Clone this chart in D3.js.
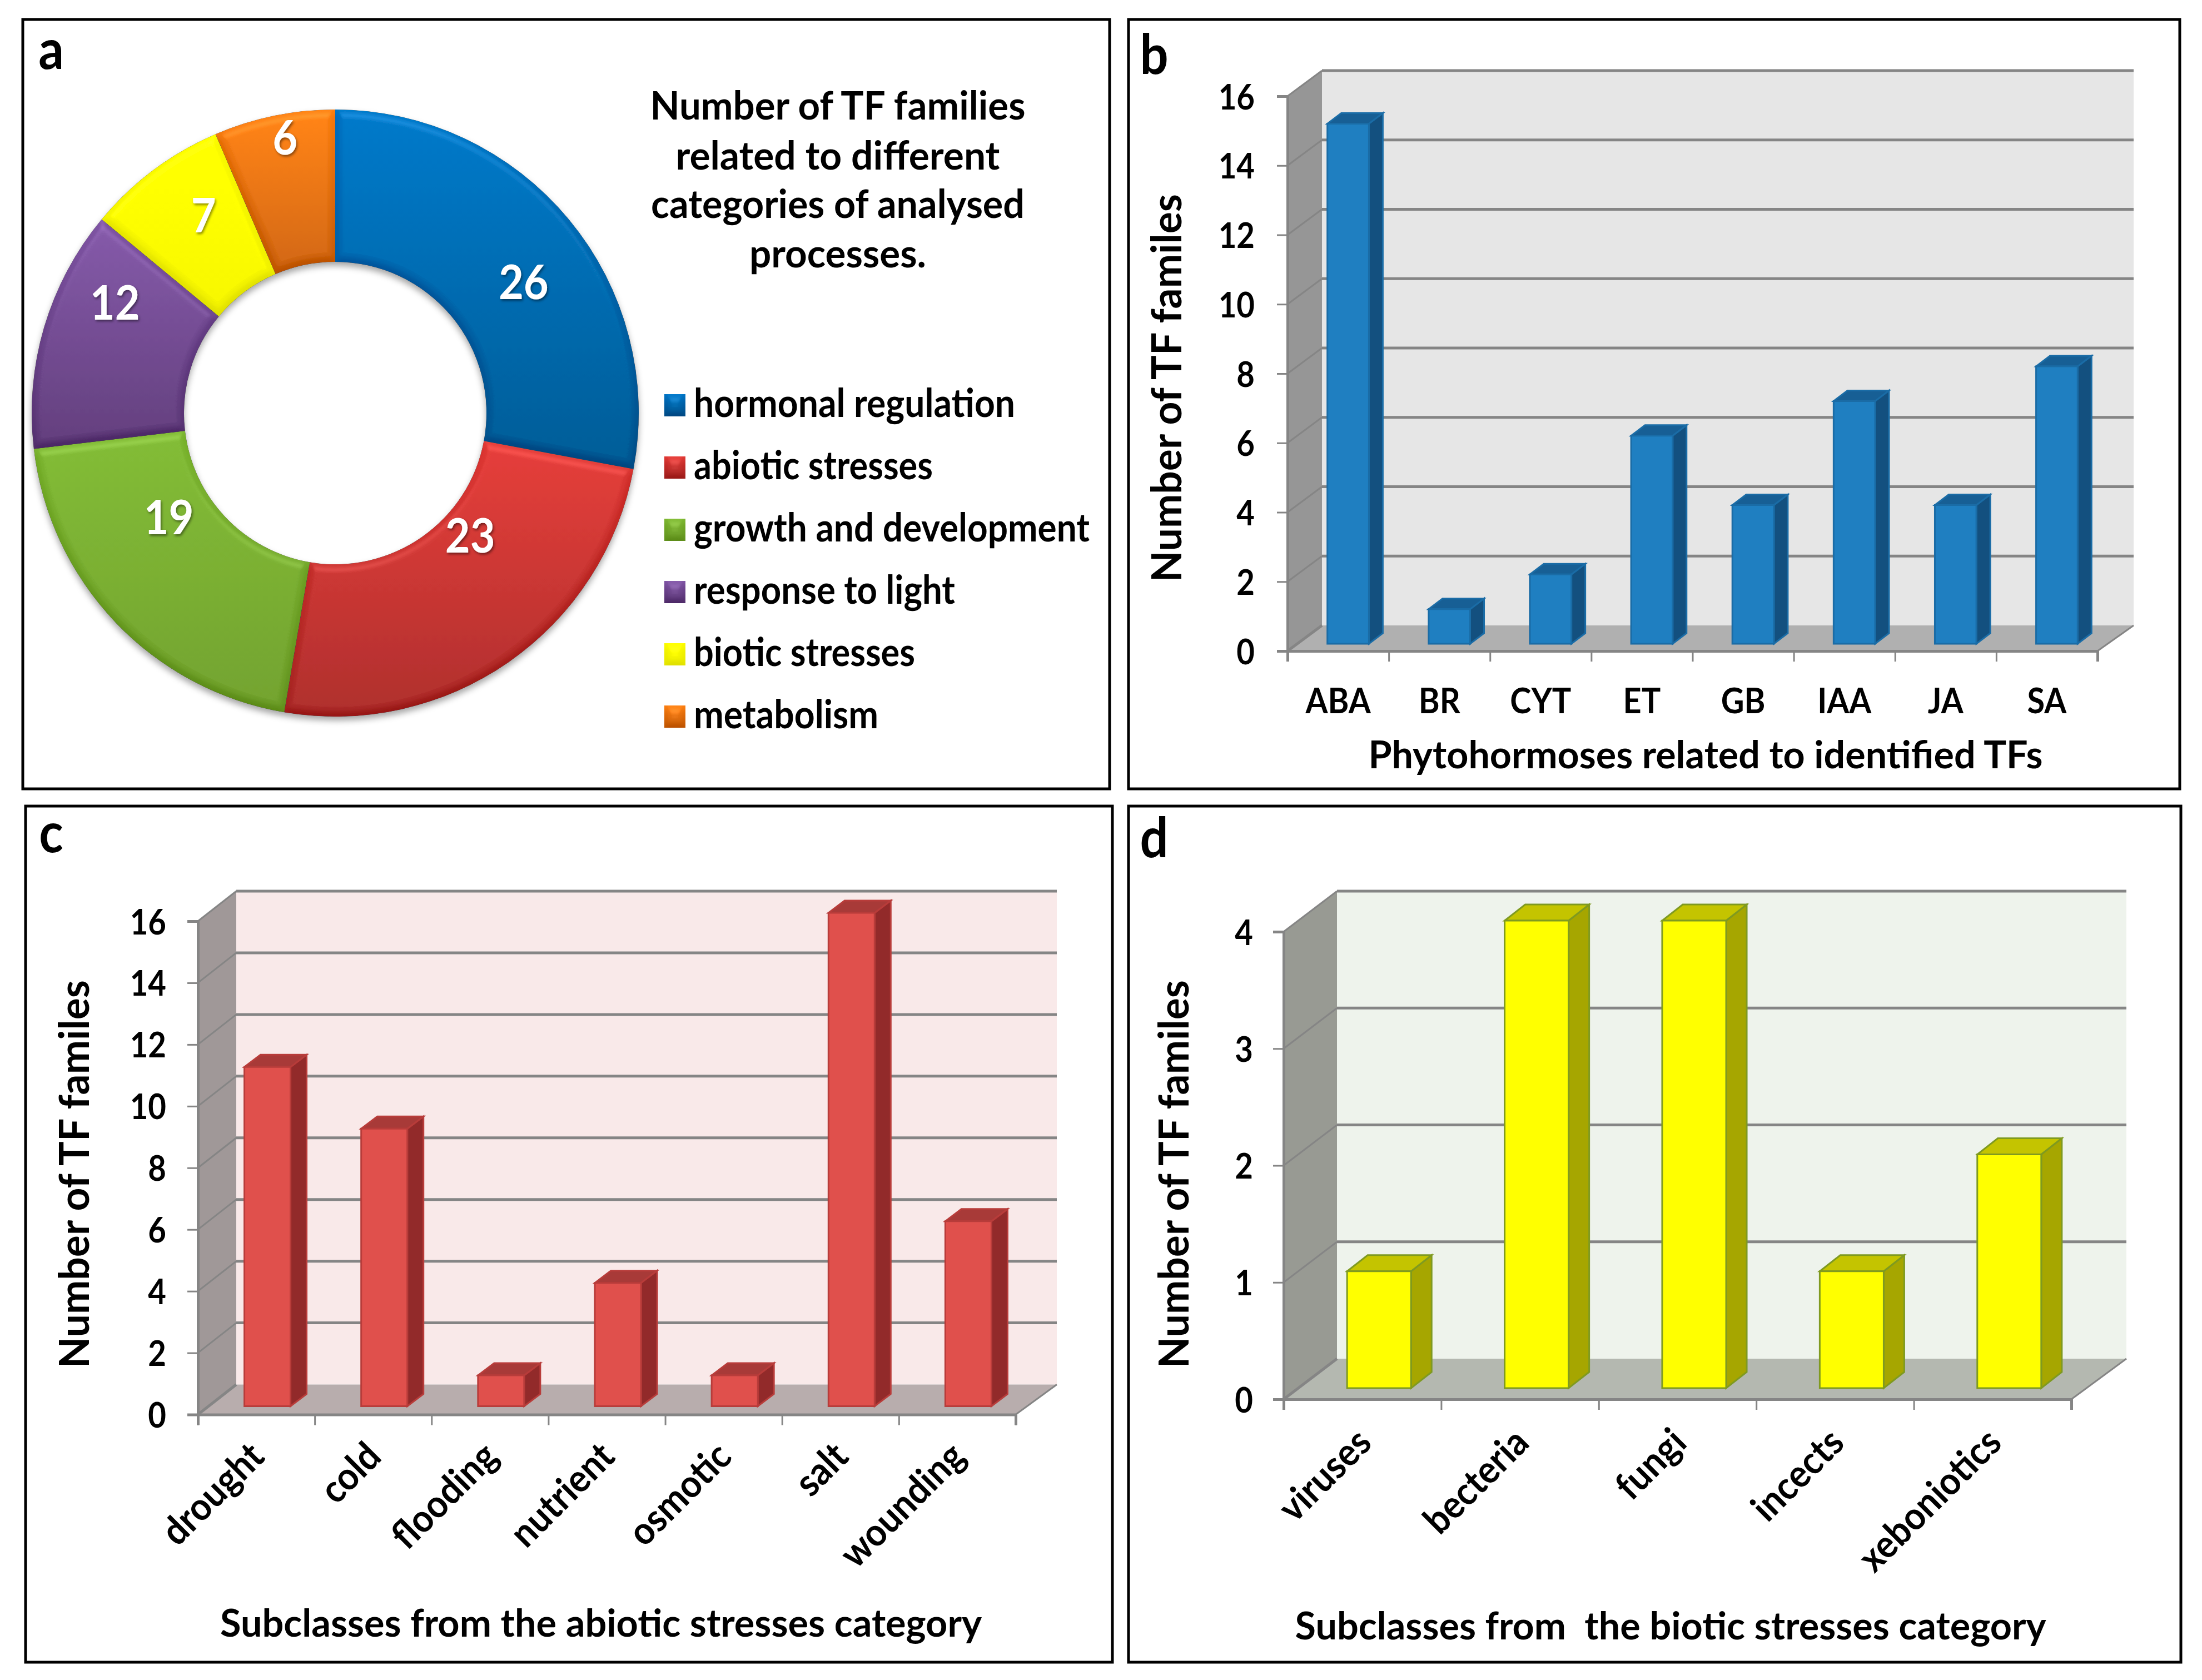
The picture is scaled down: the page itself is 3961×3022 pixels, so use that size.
<!DOCTYPE html>
<html><head><meta charset="utf-8">
<script src="https://cdn.jsdelivr.net/npm/d3@7"></script>
<style>html,body{margin:0;padding:0;background:#fff}svg{display:block}text{font-family:Lato,"Open Sans",sans-serif;font-weight:700;fill:#000;white-space:pre}</style>
</head><body><script>
// ---------- data ----------
const processNames=["hormonal regulation","abiotic stresses","growth and development","response to light","biotic stresses","metabolism"];
const processValues=[26,23,19,12,7,6];
const titleLines=["Number of TF families","related to different","categories of analysed","processes."];
const hormoneNames=["ABA","BR","CYT","ET","GB","IAA","JA","SA"];
const hormoneValues=[15,1,2,6,4,7,4,8];
const abioticNames=["drought","cold","flooding","nutrient","osmotic","salt","wounding"];
const abioticValues=[11,9,1,4,1,16,6];
const bioticNames=["viruses","becteria","fungi","incects","xeboniotics"];
const bioticValues=[1,4,4,1,2];
const yTicksEven=[0,2,4,6,8,10,12,14,16];
const yTicksUnit=[0,1,2,3,4];

// ---------- canvas ----------
const W=3961,H=3022;
const svg=d3.select("body").append("svg").attr("width",W).attr("height",H).attr("viewBox",`0 0 ${W} ${H}`);
svg.append("rect").attr("width",W).attr("height",H).attr("fill","#fff");
const defs=svg.append("defs");

function label(g,x,y,str,size,opt={}){
  const t=g.append("text").attr("x",x).attr("y",y).attr("font-size",size)
    .attr("text-anchor",opt.anchor||"middle").text(str);
  if(opt.rotate!==undefined) t.attr("transform",`rotate(${opt.rotate} ${x} ${y})`);
  if(opt.fill) t.style("fill",opt.fill);
  if(opt.filter) t.attr("filter",opt.filter);
  if(opt.width||opt.k){
    const w=opt.width||t.node().getComputedTextLength()*opt.k;
    t.attr("textLength",w).attr("lengthAdjust","spacingAndGlyphs");
  }
  return t;
}

// frames
[[41,35,1996,1419],[2030,35,3921,1419],[46,1450,2001,2990],[2030,1450,3923,2990]].forEach(f=>{
  svg.append("rect").attr("x",f[0]).attr("y",f[1]).attr("width",f[2]-f[0]).attr("height",f[3]-f[1])
    .attr("fill","#fff").attr("stroke","#000").attr("stroke-width",5);
});
[["a",92,124],["b",2076,133],["c",92,1533],["d",2076,1542]].forEach(p=>label(svg,p[1],p[2],p[0],100,{k:0.9}));

// ---------- panel a: doughnut ----------
const bevel=defs.append("filter").attr("id","bevel").attr("x","-10%").attr("y","-10%").attr("width","120%").attr("height","125%")
  .attr("color-interpolation-filters","sRGB");
bevel.append("feGaussianBlur").attr("in","SourceAlpha").attr("stdDeviation",7).attr("result","b");
const lit=bevel.append("feDiffuseLighting").attr("in","b").attr("surfaceScale",14).attr("diffuseConstant",0.6).attr("lighting-color","#fff").attr("result","l0");
lit.append("feDistantLight").attr("azimuth",270).attr("elevation",60);
const curve=bevel.append("feComponentTransfer").attr("in","l0").attr("result","l");
["R","G","B"].forEach(c=>curve.append("feFunc"+c).attr("type","table").attr("tableValues","0.42 0.46 0.50 0.75 1"));
bevel.append("feComposite").attr("in","SourceGraphic").attr("in2","l").attr("operator","arithmetic")
  .attr("k1",0).attr("k2",1).attr("k3",0.9).attr("k4",-0.459).attr("result","c");
bevel.append("feComposite").attr("in","c").attr("in2","SourceAlpha").attr("operator","in");

const shadow=defs.append("filter").attr("id","ringShadow").attr("x","-10%").attr("y","-10%").attr("width","120%").attr("height","120%");
shadow.append("feDropShadow").attr("dx",0).attr("dy",7).attr("stdDeviation",6).attr("flood-color","#000").attr("flood-opacity",0.35);
const txtShadow=defs.append("filter").attr("id","txtShadow").attr("x","-20%").attr("y","-20%").attr("width","140%").attr("height","140%");
txtShadow.append("feDropShadow").attr("dx",2).attr("dy",3).attr("stdDeviation",2).attr("flood-color","#000").attr("flood-opacity",0.45);

const sliceTop=["#0077C8","#E43C38","#80BA34","#8358A8","#FFFF00","#FF8214"];
const sliceBottom=["#005A94","#AC2C2A","#70A02C","#603C7A","#F4F400","#CE6410"];
processNames.forEach((n,i)=>{
  const g=defs.append("linearGradient").attr("id","sl"+i).attr("x1",0).attr("y1",0).attr("x2",0).attr("y2",1);
  g.append("stop").attr("offset","0%").attr("stop-color",sliceTop[i]);
  g.append("stop").attr("offset","100%").attr("stop-color",sliceBottom[i]);
});
const cx=603,cy=743,rOuter=546,rInner=272;
const pie=d3.pie().sort(null)(processValues);
const arc=d3.arc().innerRadius(rInner).outerRadius(rOuter);
const ring=svg.append("g").attr("transform",`translate(${cx},${cy})`);
const ringShadowG=ring.append("g").attr("filter","url(#ringShadow)");
ringShadowG.selectAll("path").data(pie).join("path").attr("d",arc)
  .attr("fill",(d,i)=>`url(#sl${i})`).attr("filter","url(#bevel)");
const labelNudge=[[24,26],[9,-115],[-3,-94],[-4,-82],[8,-27],[-8,-94]];
pie.forEach((d,i)=>{
  const c=arc.centroid(d);
  label(ring,c[0]+labelNudge[i][0],c[1]+labelNudge[i][1]+30,String(d.data),86,{fill:"#fff",filter:"url(#txtShadow)",k:0.9});
});
// title and legend
const titleWidths=[675,583,672,318], titleY=[215,305,392,481];
titleLines.forEach((s,i)=>label(svg,1507,titleY[i],s,70,{width:titleWidths[i]}));
const legendY=d3.scaleLinear().domain([0,5]).range([750,1310]);
const legendWidths=[578,430,712,470,398,332];
processNames.forEach((n,i)=>{
  svg.append("rect").attr("x",1195).attr("y",legendY(i)-41).attr("width",38).attr("height",40)
    .attr("fill",`url(#sl${i})`).attr("filter","url(#bevel)");
  label(svg,1248,legendY(i),n,70,{anchor:"start",width:legendWidths[i]});
});

// ---------- panels b, c, d: pseudo-3D column charts ----------
function bars3d(o){
  const g=svg.append("g");
  const x=d3.scaleBand().domain(o.names).range([o.x0,o.x1]);
  const y=d3.scaleLinear().domain([0,o.max]).range([o.y0,o.yTop]);
  const edge=d3.scaleLinear().domain([0,o.names.length]).range([o.x0,o.x1]);
  const [dx,dy]=o.wall, yT=y(o.max), xBack=o.x1+dx+o.backExtra;
  const poly=(pts,fill,extra)=>{const p=g.append("polygon").attr("points",pts.map(q=>q.join(",")).join(" ")).attr("fill",fill);
    if(extra){p.attr("stroke",extra).attr("stroke-width",o.thin)}return p;};
  // walls
  poly([[o.x0+dx,o.y0-dy],[xBack,o.y0-dy],[xBack,yT-dy],[o.x0+dx,yT-dy]],o.back);
  poly([[o.x0,o.y0],[o.x0+dx,o.y0-dy],[o.x0+dx,yT-dy],[o.x0,yT]],o.side);
  poly([[o.x0,o.y0],[o.x1,o.y0],[xBack,o.y0-dy],[o.x0+dx,o.y0-dy]],o.floor);
  // gridlines on wall and side wall
  const gl=g.append("g").attr("stroke",o.grid).attr("fill","none");
  o.ticks.forEach(v=>{
    if(v>0) gl.append("line").attr("x1",o.x0+dx).attr("x2",xBack).attr("y1",y(v)-dy).attr("y2",y(v)-dy).attr("stroke-width",o.gridW);
    gl.append("line").attr("x1",o.x0).attr("x2",o.x0+dx).attr("y1",y(v)).attr("y2",y(v)-dy).attr("stroke-width",v===0?o.gridW:o.thin);
  });
  gl.append("line").attr("x1",o.x1).attr("x2",xBack).attr("y1",o.y0).attr("y2",o.y0-dy).attr("stroke-width",o.thin);
  // axes
  const ya=g.append("g").attr("transform",`translate(${o.x0},0)`)
    .call(d3.axisLeft(y).tickValues(o.ticks).tickSize(o.tick).tickPadding(o.tickPad).tickFormat(d3.format("d")));
  const xa=g.append("g").attr("transform",`translate(0,${o.y0})`)
    .call(d3.axisBottom(edge).tickValues(d3.range(o.names.length+1)).tickSize(o.tick).tickFormat(""));
  [ya,xa].forEach(a=>{a.selectAll("path.domain").attr("stroke",o.grid).attr("stroke-width",o.gridW);
    a.selectAll("line").attr("stroke",o.grid).attr("stroke-width",o.thin);});
  ya.selectAll("text").attr("font-size",o.fs).style("font-family","Lato").attr("font-weight",700).attr("fill","#000").attr("dy","0.36em")
    .each(function(){this.setAttribute("textLength",this.getComputedTextLength()*0.88);this.setAttribute("lengthAdjust","spacingAndGlyphs");});
  // columns
  const [ox,oy]=o.barOffset,[bx,by]=o.barDepth;
  const bw=x.bandwidth()*o.barFrac;
  const left=n=>x(n)+x.bandwidth()/2-bw/2+ox;
  o.names.forEach((n,i)=>{
    const v=o.values[i], l=left(n), r=l+bw, t=y(v)-oy, b=y(0)-oy;
    poly([[r,t],[r+bx,t-by],[r+bx,b-by],[r,b]],o.barSide,o.barStroke);
    poly([[l,t],[r,t],[r+bx,t-by],[l+bx,t-by]],o.barTop,o.barStroke);
    poly([[l,t],[r,t],[r,b],[l,b]],o.barFront,o.barStroke);
  });
  // category labels
  o.names.forEach(n=>{
    const c=x(n)+x.bandwidth()/2;
    if(o.rotate) label(g,c+o.labelDx,o.labelY,n,o.rotFs,{anchor:"end",rotate:o.rotate,k:o.labelK});
    else label(g,c,o.labelY,n,o.fs,{k:o.labelK});
  });
  // axis titles
  label(g,o.xTitle[0],o.xTitle[1],o.xLabel,o.titleFs,{width:o.xTitle[2]});
  label(g,o.yTitle[0],o.yTitle[1],o.yLabel,o.yFs,{rotate:-90,width:o.yTitle[2]});
}

bars3d({names:hormoneNames,values:hormoneValues,ticks:yTicksEven,max:16,
  x0:2316,x1:3773,y0:1171,yTop:173,wall:[62,46],backExtra:3,barOffset:[18,13],barDepth:[25,19],barFrac:0.41,
  back:"#E6E6E6",side:"#969696",floor:"#B0B0B0",grid:"#858585",gridW:5,thin:3,tick:19,tickPad:40,fs:64,
  barFront:"#1F7FC1",barSide:"#13507F",barTop:"#175F95",barStroke:"#1A6CA6",
  labelY:1283,labelK:0.9,titleFs:68,yFs:74,
  xLabel:"Phytohormoses related to identified TFs",xTitle:[3068,1382,1213],
  yLabel:"Number of TF familes",yTitle:[2125,698,698]});

bars3d({names:abioticNames,values:abioticValues,ticks:yTicksEven,max:16,
  x0:356,x1:1827,y0:2544.5,yTop:1657,wall:[69,54],backExtra:5,barOffset:[20,15],barDepth:[29,22],barFrac:0.395,
  back:"#F9E9E9",side:"#A09898",floor:"#B8ADAD",grid:"#858585",gridW:5,thin:3,tick:19,tickPad:38,fs:64,rotFs:69,
  barFront:"#E0504C",barSide:"#922A2A",barTop:"#A83A38",barStroke:"#B83C3A",
  labelY:2624,labelDx:18,rotate:-45,labelK:0.93,titleFs:68,yFs:74,
  xLabel:"Subclasses from the abiotic stresses category",xTitle:[1081,2944,1370],
  yLabel:"Number of TF familes",yTitle:[160,2112,698]});

bars3d({names:bioticNames,values:bioticValues,ticks:yTicksUnit,max:4,
  x0:2309,x1:3726,y0:2517,yTop:1676,wall:[96,73],backExtra:3,barOffset:[30,20],barDepth:[37,29],barFrac:0.406,
  back:"#EEF3EC",side:"#989A93",floor:"#B4B8B0",grid:"#858585",gridW:5,thin:3,tick:19,tickPad:36,fs:64,rotFs:69,
  barFront:"#FFFF00",barSide:"#A6A600",barTop:"#C4C400",barStroke:"#7F9A20",
  labelY:2599,labelDx:20,rotate:-45,labelK:0.93,titleFs:68,yFs:74,
  xLabel:"Subclasses from  the biotic stresses category",xTitle:[3005,2949,1351],
  yLabel:"Number of TF familes",yTitle:[2138,2112,698]});
</script></body></html>
